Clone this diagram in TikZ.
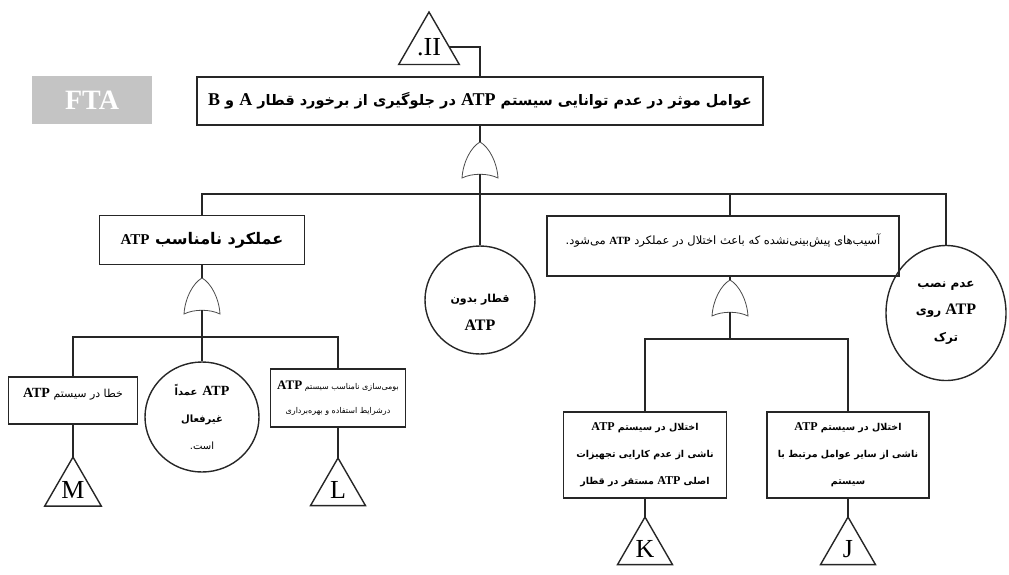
\documentclass[tikz,border=0pt]{standalone}
\usepackage{fontspec}
\usetikzlibrary{shapes.geometric}
\TeXXeTstate=1
\newfontfamily\arabicfont[Script=Arabic]{DejaVu Sans}
\newfontfamily\latinfont{Liberation Serif}
\newcommand{\fs}[2]{\fontsize{#1}{#2}\selectfont}
\newcommand{\fa}[1]{{\arabicfont\beginR #1\endR}}
\newcommand{\lt}[2]{\beginL{\latinfont\bfseries\fontsize{#1}{#1}\selectfont #2}\endL}

\begin{document}
\begin{tikzpicture}[x=1pt, y=1pt,
    event/.style={draw=black!85, line width=1.8pt, fill=white, inner sep=2pt, align=center},
    basic/.style={ellipse, draw=black!85, line width=1.4pt, inner sep=0pt, align=center},
    transfer/.style={regular polygon, regular polygon sides=3, draw=black!85, line width=1.4pt,
        inner sep=0pt, outer sep=0pt, minimum size=63.5pt, font=\latinfont\fs{26}{26}},
    link/.style={draw=black!85, line width=1.6pt},
    pics/orgate/.style={code={
        \draw [black!70, line width=0.8pt, fill=white] (0,0) .. controls (9,-5) and (17,-20) .. (18,-36)
            .. controls (8,-31) and (-8,-31) .. (-18,-36) .. controls (-17,-20) and (-9,-5) .. (0,0) -- cycle;
        \coordinate (-in) at (0,0);
        \coordinate (-out) at (0,-32);
    }}]
    \useasboundingbox (0,0) rectangle (1009,-574);

    % title and top event
    \node [fill=black!23, minimum width=120pt, minimum height=48pt, text=white, font=\latinfont\bfseries\fs{28}{28}] (fta) at (92,-100) {FTA};
    \node [transfer, minimum size=70pt] (ii) at (429,-47) {.II};
    \node [event, minimum width=566pt, minimum height=48pt, font=\fs{14.5}{18}] (top) at (480,-101)
        {\fa{\bfseries عوامل موثر در عدم توانایی سیستم \lt{18}{ATP} در جلوگیری از  برخورد قطار  \lt{18}{A} و \lt{18}{B}}};
    \draw [link] (ii.east) -| (top.north);
    \pic (g0) at (480,-142) {orgate};
    \draw [link] (top.south) -- (g0-in);

    % second level
    \coordinate (bus0) at (0,-194);
    \node [event, minimum width=205pt, minimum height=49pt, font=\fs{16}{18}] (misop) at (202,-240)
        {\fa{\bfseries عملکرد نامناسب \lt{15}{ATP}}};
    \node [basic, minimum width=110pt, minimum height=108pt, font=\fs{11}{28}] (noatp) at (480,-300)
        {\rule{0pt}{32pt}\fa{\bfseries قطار بدون}\\\lt{16}{ATP}};
    \node [event, minimum width=352pt, minimum height=60pt, text depth=14pt, font=\fs{11.5}{14}] (damage) at (723,-246)
        {\fa{آسیب‌های پیش‌بینی‌نشده که باعث اختلال در عملکرد \lt{11}{ATP} می‌شود.}};
    \node [basic, minimum width=120pt, minimum height=135pt, font=\fs{12}{27}] (notinst) at (946,-313)
        {\fa{\bfseries عدم نصب}\\\fa{\bfseries \lt{16}{ATP} روی}\\\fa{\bfseries ترک}};
    \draw [link] (g0-out) -- (noatp.north);
    \draw [link] (misop.north) |- (bus0 -| notinst.north) -- (notinst.north);

    % left branch
    \pic (g1) at (202,-278) {orgate};
    \draw [link] (misop.south) -- (g1-in);
    \coordinate (bus1) at (0,-337);
    \node [event, minimum width=129pt, minimum height=47pt, text depth=16pt, font=\fs{11}{14}] (atperr) at (73,-400.5)
        {\fa{خطا در سیستم \lt{14}{ATP}}};
    \node [basic, minimum width=114pt, minimum height=110pt, font=\fs{10}{27}] (offatp) at (202,-417)
        {\fa{\bfseries \lt{14}{ATP}\enspace عمداً}\\\fa{\bfseries غیرفعال}\\\fa{است.}};
    \node [event, minimum width=135pt, minimum height=58pt, font=\fs{8}{24}] (localz) at (338,-398)
        {\fa{بومی‌سازی نامناسب سیستم \lt{13}{ATP}}\\\fa{درشرایط استفاده و بهره‌برداری}};
    \draw [link] (g1-out) -- (offatp.north);
    \draw [link] (atperr.north) |- (bus1 -| g1-out) -| (localz.north);
    \node [transfer] (M) at (73,-489.75) {M};
    \node [transfer] (L) at (338,-489.75) {L};
    \draw [link] (atperr.south) -- (M.north);
    \draw [link] (localz.south) -- (L.north);

    % right branch
    \pic (g2) at (730,-280) {orgate};
    \draw [link] (bus0 -| g2-in) -- (damage.north -| g2-in);
    \draw [link] (damage.south -| g2-in) -- (g2-in);
    \coordinate (bus2) at (730,-339);
    \draw [link] (g2-out) -- (bus2);
    \node [event, minimum width=163pt, minimum height=86pt, font=\fs{9.5}{27}] (hwfail) at (645,-455)
        {\fa{\bfseries اختلال در سیستم \lt{12}{ATP}}\\\fa{\bfseries ناشی از عدم کارایی تجهیزات}\\\fa{\bfseries اصلی \lt{12}{ATP} مستقر در قطار}};
    \node [event, minimum width=162pt, minimum height=86pt, font=\fs{9.5}{27}] (otherf) at (848,-455)
        {\fa{\bfseries اختلال در سیستم \lt{12}{ATP}}\\\fa{\bfseries ناشی از سایر عوامل مرتبط با}\\\fa{\bfseries سیستم}};
    \draw [link] (hwfail.north) |- (bus2) -| (otherf.north);
    \node [transfer] (K) at (645,-548.75) {K};
    \node [transfer] (J) at (848,-548.75) {J};
    \draw [link] (hwfail.south) -- (K.north);
    \draw [link] (otherf.south) -- (J.north);
\end{tikzpicture}
\end{document}
